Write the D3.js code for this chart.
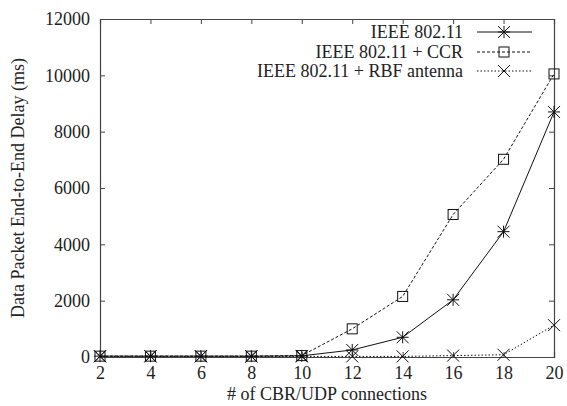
<!DOCTYPE html>
<html><head><meta charset="utf-8">
<script src="https://cdn.jsdelivr.net/npm/d3@7"></script>
<style>body{margin:0;background:#fff}svg{display:block}text{font-family:"Liberation Serif",serif !important;fill:#222}</style>
</head><body><div id="c"></div>
<script>
const connections = [2,4,6,8,10,12,14,16,18,20];
const ieee = [30,30,30,30,40,250,700,2030,4450,8700];
const ccr = [30,30,30,30,50,1000,2150,5060,7020,10050];
const rbf = [20,20,20,20,20,20,20,50,80,1130];
const seriesNames = ["IEEE 802.11","IEEE 802.11 + CCR","IEEE 802.11 + RBF antenna"];
const yTicks = [0,2000,4000,6000,8000,10000,12000];

(function(){
const W=567,H=406, m={l:100,r:13,t:19,b:49};
const svg=d3.select("#c").append("svg").attr("width",W).attr("height",H);
const x=d3.scaleLinear().domain([2,20]).range([m.l,W-m.r]);
const y=d3.scaleLinear().domain([0,12000]).range([H-m.b,m.t]);
const ax="#444";
const g=svg.append("g");
const fs="18px";
const axB=g.append("g").attr("transform",`translate(0,${H-m.b})`).call(d3.axisBottom(x).tickValues(connections).tickSize(-5).tickPadding(9).tickFormat(d3.format("d")));
const axT=g.append("g").attr("transform",`translate(0,${m.t})`).call(d3.axisTop(x).tickValues(connections).tickSize(-5).tickFormat(""));
const axL=g.append("g").attr("transform",`translate(${m.l},0)`).call(d3.axisLeft(y).tickValues(yTicks).tickSize(-5).tickPadding(10).tickFormat(d3.format("d")));
const axR=g.append("g").attr("transform",`translate(${W-m.r},0)`).call(d3.axisRight(y).tickValues(yTicks).tickSize(-5).tickFormat(""));
[axB,axT,axL,axR].forEach(a=>{a.attr("font-family",null).attr("font-size",null);a.select(".domain").attr("stroke",ax).attr("stroke-width",1.2);a.selectAll(".tick line").attr("stroke",ax);a.selectAll("text").style("font-size",fs).attr("fill","#222");});
svg.append("text").attr("x",(m.l+W-m.r)/2).attr("y",400).attr("text-anchor","middle").style("font-size",fs).text("# of CBR/UDP connections");
svg.append("text").attr("transform",`translate(24,${(m.t+H-m.b)/2}) rotate(-90)`).attr("text-anchor","middle").style("font-size",fs).text("Data Packet End-to-End Delay (ms)");

function marker(sel,type,cx,cy){
  const s=6;
  if(type==="star"){
    sel.append("path").attr("d",`M${cx-s},${cy}H${cx+s}M${cx},${cy-s}V${cy+s}M${cx-s},${cy-s}L${cx+s},${cy+s}M${cx-s},${cy+s}L${cx+s},${cy-s}`).attr("stroke","#111").attr("stroke-width",1).attr("fill","none");
  } else if(type==="square"){
    sel.append("rect").attr("x",cx-5).attr("y",cy-5).attr("width",10).attr("height",10).attr("stroke","#111").attr("stroke-width",1).attr("fill","none");
  } else {
    sel.append("path").attr("d",`M${cx-s},${cy-s}L${cx+s},${cy+s}M${cx-s},${cy+s}L${cx+s},${cy-s}`).attr("stroke","#111").attr("stroke-width",1).attr("fill","none");
  }
}
const series=[{v:ieee,dash:null,m:"star"},{v:ccr,dash:"3,2",m:"square"},{v:rbf,dash:"1.5,2",m:"x"}];
const line=d3.line().x((d,i)=>x(connections[i])).y(d=>y(d));
series.forEach(s=>{
  svg.append("path").datum(s.v).attr("d",line).attr("fill","none").attr("stroke","#111").attr("stroke-width",1).attr("stroke-dasharray",s.dash);
  const mg=svg.append("g");
  s.v.forEach((d,i)=>marker(mg,s.m,x(connections[i]),y(d)));
});
const ly=[32,52,71];
series.forEach((s,i)=>{
  svg.append("text").attr("x",463).attr("y",ly[i]+6).attr("text-anchor","end").style("font-size",fs).text(seriesNames[i]);
  svg.append("line").attr("x1",477).attr("x2",532).attr("y1",ly[i]).attr("y2",ly[i]).attr("stroke","#111").attr("stroke-dasharray",s.dash);
  marker(svg,s.m,504,ly[i]);
});
})();
</script></body></html>
